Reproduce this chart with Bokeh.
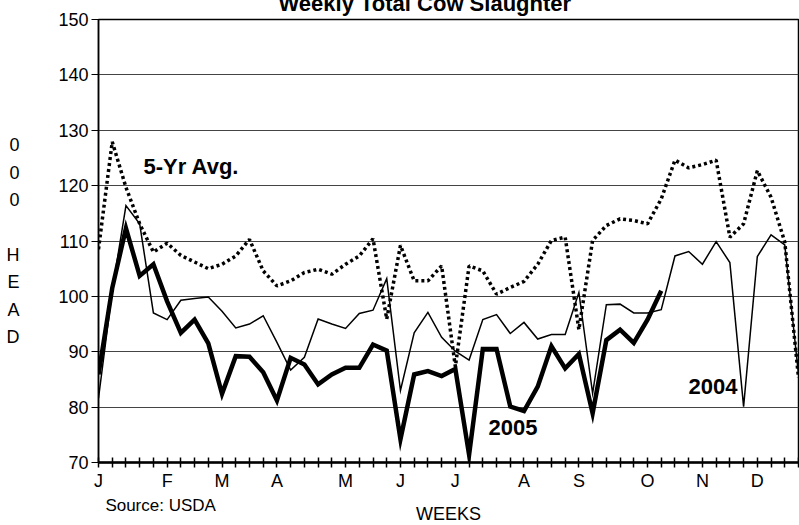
from bokeh.plotting import figure
from bokeh.models import Range1d, FixedTicker, Label, LinearAxis
from bokeh.embed import file_html
from bokeh.resources import INLINE

weeks = list(range(52))
avg5 = [108.5, 127.9, 119.7, 113.1, 108.0, 109.6, 107.4, 106.2, 105.0, 105.8,
        107.3, 110.3, 104.6, 101.9, 102.8, 104.3, 104.9, 104.0, 105.8, 107.3,
        110.4, 95.9, 109.2, 102.8, 102.8, 105.5, 87.3, 105.5, 104.6, 100.4,
        101.6, 102.7, 105.8, 110.1, 110.7, 94.0, 110.1, 112.8, 114.0, 113.7,
        113.1, 117.6, 124.6, 123.2, 123.8, 124.6, 110.7, 113.1, 122.7, 117.9,
        109.8, 85.3]
y2004 = [81.6, 101.0, 116.4, 113.1, 97.0, 95.8, 99.3, 99.6, 99.9, 97.3,
         94.3, 95.0, 96.5, 91.7, 86.7, 89.0, 95.9, 95.0, 94.2, 96.9,
         97.5, 103.2, 83.0, 93.4, 97.1, 92.6, 90.1, 88.5, 95.8, 96.7,
         93.3, 95.3, 92.3, 93.1, 93.1, 100.7, 82.5, 98.5, 98.6, 97.0,
         97.0, 97.6, 107.3, 108.1, 105.8, 109.9, 106.1, 80.1, 107.2, 111.1,
         109.3, 85.9]
y2005 = [85.9, 101.5, 112.3, 103.7, 105.8, 99.1, 93.4, 95.8, 91.5, 82.4,
         89.2, 89.1, 86.3, 81.2, 88.9, 87.7, 84.1, 85.9, 87.1, 87.1,
         91.3, 90.2, 74.2, 85.9, 86.5, 85.6, 86.9, 71.4, 90.5, 90.5,
         80.1, 79.3, 83.7, 91.0, 87.0, 89.6, 78.9, 92.1, 94.0, 91.6,
         95.8, 101.0]
weeks2005 = weeks[:len(y2005)]

month_pos = [0, 5, 9, 13, 18, 22, 26, 31, 35, 40, 44, 48]
month_labels = ["J", "F", "M", "A", "M", "J", "J", "A", "S", "O", "N", "D"]
y_ticks = [70, 80, 90, 100, 110, 120, 130, 140, 150]

FONT = "Liberation Sans"
SHIFT = 16  # page is shifted up so the title is cut at the top, as in the reference

L, T = 98, 19
FW, FH = 700, 443
X0, X1, Y0, Y1 = 0, 51, 70, 150


def dx(px):
    return X0 + (px - L) * (X1 - X0) / FW


def dy(py):
    return Y1 - (py - T) * (Y1 - Y0) / FH


p = figure(frame_width=FW, frame_height=FH,
           x_range=Range1d(X0, X1), y_range=Range1d(Y0, Y1),
           output_backend="svg", toolbar_location=None,
           min_border_left=L, min_border_right=1, min_border_top=0, min_border_bottom=0,
           styles={"margin-top": f"-{SHIFT}px"})
p.background_fill_color = "white"
p.border_fill_color = "white"
p.outline_line_color = "black"
p.outline_line_width = 1.5

p.title.text = "Weekly Total Cow Slaughter"
p.title.align = "left"
p.title.offset = 180
p.title.standoff = 8
p.title.text_font = FONT
p.title.text_font_style = "bold"
p.title.text_font_size = "22px"
p.title.text_color = "black"

p.xgrid.visible = False
p.ygrid.grid_line_color = "#444444"
p.ygrid.grid_line_width = 1
p.ygrid.ticker = FixedTicker(ticks=y_ticks)

p.xaxis.ticker = FixedTicker(ticks=weeks)
overrides = {w: "" for w in weeks}
for pos, lab in zip(month_pos, month_labels):
    overrides[pos] = lab
p.xaxis.major_label_overrides = overrides
p.xaxis.major_tick_in = 5
p.xaxis.major_tick_out = 5
p.xaxis.minor_tick_line_color = None
p.xaxis.axis_line_width = 2.5
p.xaxis.major_tick_line_width = 1.5
p.xaxis.major_label_standoff = 3
p.xaxis.major_label_text_font = FONT
p.xaxis.major_label_text_font_size = "18px"
p.xaxis.major_label_text_color = "black"
p.xaxis.axis_label = "WEEKS"
p.xaxis.axis_label_standoff = 10
p.xaxis.axis_label_text_font = FONT
p.xaxis.axis_label_text_font_style = "normal"
p.xaxis.axis_label_text_font_size = "18px"
p.xaxis.axis_label_text_color = "black"

p.yaxis.ticker = FixedTicker(ticks=y_ticks)
p.yaxis.major_tick_in = 0
p.yaxis.major_tick_out = 7
p.yaxis.minor_tick_line_color = None
p.yaxis.axis_line_width = 1.5
p.yaxis.major_label_standoff = 3
p.yaxis.major_label_text_font = FONT
p.yaxis.major_label_text_font_size = "18px"
p.yaxis.major_label_text_color = "black"
p.yaxis.axis_label = "0\n0\n0\n \nH\nE\nA\nD"
p.yaxis.axis_label_orientation = "horizontal"
p.yaxis.axis_label_standoff = 36
p.yaxis.axis_label_text_font = FONT
p.yaxis.axis_label_text_font_style = "normal"
p.yaxis.axis_label_text_font_size = "18px"
p.yaxis.axis_label_text_line_height = 1.37
p.yaxis.axis_label_text_color = "black"

src_tick = 4.7
src_axis = LinearAxis(ticker=FixedTicker(ticks=[src_tick]),
                      major_label_overrides={src_tick: "Source:  USDA"},
                      axis_line_color=None, major_tick_line_color=None,
                      minor_tick_line_color=None, major_label_standoff=-37,
                      major_label_text_font=FONT, major_label_text_font_size="17px",
                      major_label_text_color="black")
p.add_layout(src_axis, "below")

p.line(weeks, avg5, line_color="black", line_width=3.5, line_dash="3 3")
p.line(weeks, y2004, line_color="black", line_width=1.5, line_join="miter")
p.line(weeks2005, y2005, line_color="black", line_width=4.5, line_join="miter")

for txt, px, py in [("5-Yr Avg.", 143, 166), ("2005", 488, 427), ("2004", 688, 386)]:
    p.add_layout(Label(x=dx(px), y=dy(py), text=txt, text_font=FONT,
                       text_font_style="bold", text_font_size="22px", text_color="black",
                       text_baseline="middle", text_align="left"))

open("out.html", "w").write(file_html(p, INLINE))
